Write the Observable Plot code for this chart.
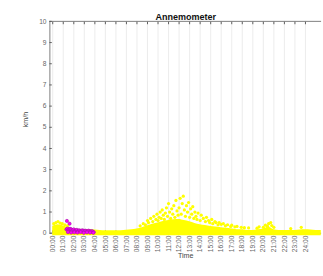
<!DOCTYPE html>
<html>
<head>
<meta charset="utf-8">
<script src="https://cdn.jsdelivr.net/npm/d3@7"></script>
<script src="https://cdn.jsdelivr.net/npm/@observablehq/plot@0.6"></script>
<style>
  html, body { margin: 0; padding: 0; background: #fff; overflow: hidden; }
  #chart { width: 323px; height: 276px; overflow: hidden; position: relative; }
  #chart svg { position: absolute; left: 0; top: 0; }
</style>
</head>
<body>
<div id="chart"></div>
<script>
// ---- data ----
const tickHours = [0,1,2,3,4,5,6,7,8,9,10,11,12,13,14,15,16,17,18,19,20,21,22,23,24];
const tickLabels = ["00:00","01:00","02:00","03:00","04:00","05:00","06:00","07:00","08:00","09:00","10:00","11:00","12:00","13:00","14:00","15:00","16:00","17:00","18:00","19:00","20:00","21:00","22:00","23:00","24:00"];
const yTicks = [0,1,2,3,4,5,6,7,8,9,10];

// dense yellow band: upper envelope every half hour (km/h)
const bandHours = [0,0.5,1,1.5,2,2.5,3,3.5,4,4.5,5,5.5,6,6.5,7,7.5,8,8.5,9,9.5,10,10.5,11,11.5,12,12.5,13,13.5,14,14.5,15,15.5,16,16.5,17,17.5,18,18.5,19,19.5,20,20.5,21,21.5,22,22.5,23,23.5,24,24.5,25,25.5];
const bandTop   = [0.32,0.4,0.34,0.26,0.2,0.18,0.16,0.16,0.15,0.13,0.12,0.12,0.12,0.12,0.14,0.16,0.2,0.26,0.34,0.42,0.48,0.55,0.6,0.64,0.65,0.6,0.54,0.46,0.4,0.36,0.32,0.29,0.26,0.23,0.2,0.17,0.16,0.13,0.13,0.16,0.2,0.28,0.16,0.13,0.13,0.13,0.13,0.15,0.16,0.15,0.13,0.13];

// scattered yellow readings above the band
const yellowHours = [0.1,0.3,0.5,0.7,0.9,1.15,1.4,8.3,8.6,8.8,9.0,9.1,9.3,9.5,9.6,9.8,9.9,10.0,10.1,10.2,10.3,10.4,10.5,10.6,10.7,10.8,10.9,11.0,11.1,11.2,11.3,11.4,11.5,11.6,11.7,11.8,11.9,12.0,12.1,12.2,12.3,12.4,12.5,12.6,12.7,12.8,12.9,13.0,13.1,13.2,13.3,13.4,13.5,13.6,13.7,13.8,14.0,14.1,14.3,14.5,14.6,14.8,14.9,15.1,15.2,15.4,15.5,15.7,15.8,16.0,16.2,16.4,16.6,16.9,17.0,17.3,17.5,17.9,18.2,18.6,19.4,19.6,20.0,20.2,20.4,20.5,20.7,20.8,21.0,22.6,23.6];
const yellowSpeed = [0.45,0.5,0.55,0.48,0.45,0.4,0.35,0.35,0.45,0.4,0.6,0.5,0.7,0.55,0.8,0.65,0.9,0.6,0.75,1.0,0.7,1.1,0.85,0.65,0.95,1.2,0.8,1.4,1.0,0.7,1.15,0.9,1.3,0.75,1.55,1.05,0.85,1.2,1.65,0.9,1.4,1.75,1.1,0.8,1.3,1.0,1.45,0.75,1.15,0.9,1.25,0.7,1.0,0.8,0.65,0.95,0.6,0.85,0.7,0.55,0.75,0.6,0.5,0.65,0.45,0.55,0.5,0.4,0.5,0.42,0.45,0.35,0.4,0.32,0.38,0.3,0.32,0.28,0.26,0.25,0.24,0.3,0.28,0.38,0.32,0.45,0.5,0.36,0.28,0.22,0.28];

// magenta readings (second sensor)
const magentaHours = [1.3,1.4,1.5,1.6,1.7,1.8,1.9,2.0,2.1,2.2,2.3,2.4,2.5,2.6,2.7,2.8,2.9,3.0,3.1,3.2,3.3,3.4,3.5,3.6,3.7,3.8,3.9,1.35,1.6,1.45,1.75,2.05,2.35,2.65,2.95,3.25,3.55,3.85];
const magentaSpeed = [0.18,0.22,0.15,0.2,0.2,0.16,0.14,0.18,0.12,0.14,0.16,0.1,0.14,0.12,0.1,0.14,0.12,0.1,0.12,0.1,0.08,0.12,0.1,0.08,0.1,0.08,0.05,0.58,0.45,0.05,0.03,0.04,0.03,0.05,0.02,0.04,0.03,0.02];

// ---- tables built from arrays ----
const band = bandHours.map((h, i) => ({h, v: bandTop[i]}));
const yellow = yellowHours.map((h, i) => ({h, v: yellowSpeed[i]}));
const magenta = magentaHours.map((h, i) => ({h, v: magentaSpeed[i]}));
const labelOf = new Map(tickHours.map((h, i) => [h, tickLabels[i]]));

const axisColor = "#595959";
const font = "'Liberation Sans', Arial, Helvetica, sans-serif";

const chart = Plot.plot({
  width: 340,
  height: 276,
  marginLeft: 52,
  marginRight: 2,
  marginTop: 22,
  marginBottom: 31,
  style: {fontFamily: font, fontSize: "7px", color: "#333", background: "transparent"},
  x: {domain: [-0.27, 25.53], axis: null},
  y: {domain: [0, 10], axis: null},
  marks: [
    // vertical grid
    Plot.ruleX(tickHours, {stroke: "#e6e6e6", strokeWidth: 0.8}),
    // frame lines
    Plot.ruleX([-0.27], {stroke: axisColor, strokeWidth: 0.8}),
    Plot.ruleY([10], {stroke: axisColor, strokeWidth: 0.8}),
    Plot.ruleY([0], {stroke: axisColor, strokeWidth: 0.8}),
    // inward ticks and tick labels
    Plot.axisX({anchor: "bottom", ticks: tickHours, tickSize: -2.5, tickFormat: d => labelOf.get(d), tickRotate: -90, tickPadding: 5, stroke: axisColor, fill: "#666", fontSize: 7, label: null}),
    Plot.axisX({anchor: "top", ticks: tickHours, tickSize: -2.5, tickFormat: () => "", stroke: axisColor, label: null}),
    Plot.axisY({anchor: "left", ticks: yTicks, tickSize: -2.5, tickPadding: 6, stroke: axisColor, fill: "#666", fontSize: 7, label: null}),
    // data
    Plot.areaY(band, {x: "h", y1: -0.12, y2: "v", fill: "#ffff00", curve: "monotone-x"}),
    Plot.dot(yellow, {x: "h", y: "v", r: 1.7, fill: "#ffff00"}),
    Plot.dot(magenta, {x: "h", y: "v", r: 1.7, fill: "#ff00ff", stroke: "#a3139f", strokeWidth: 0.6}),
    // title and axis labels
    Plot.text(["Annemometer"], {frameAnchor: "top", dy: -8, fontWeight: "bold", fontSize: 9.5, fill: "#111"}),
    Plot.text(["km/h"], {frameAnchor: "left", dx: -25, rotate: -90, fontSize: 7.5, fill: "#444"}),
    Plot.text(["Time"], {frameAnchor: "bottom", dy: 26, fontSize: 7.5, fill: "#444"})
  ]
});
document.getElementById("chart").appendChild(chart);
</script>
</body>
</html>
